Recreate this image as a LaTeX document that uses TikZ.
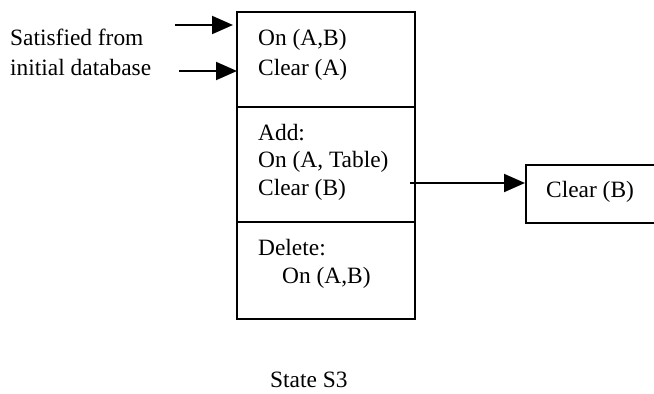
\documentclass[tikz,border=0pt]{standalone}
\usepackage{fontspec}
\setmainfont{Liberation Serif}
\usetikzlibrary{arrows.meta}
\begin{document}
\begin{tikzpicture}[x=1pt,y=-1pt,
  txt/.style={font=\fontsize{23.4}{27}\selectfont, inner sep=0pt, anchor=base west},
  boxline/.style={line width=1.8pt},
  arr/.style={line width=2pt, -{Triangle[length=21pt,width=18pt]}}]
\useasboundingbox (0,0) rectangle (654,394);
% main box
\draw[boxline] (237,12) rectangle (415,319);
\draw[boxline] (237,107) -- (415,107);
\draw[boxline] (237,222) -- (415,222);
% right box
\node[draw, line width=1.8pt, minimum width=140pt, minimum height=58pt, inner sep=0pt, anchor=north west] (cb) at (525,164) {};
\node[txt] (cbt) at (546,197) {Clear (B)};
% texts in main box
\node[txt] (p1) at (258,45) {On (A,B)};
\node[txt] (p2) at (258,75) {Clear (A)};
\node[txt] (a0) at (258,140) {Add:};
\node[txt] (a1) at (258,167) {On (A, Table)};
\node[txt] (a2) at (258,195) {Clear (B)};
\node[txt] (d0) at (258,255) {Delete:};
\node[txt] (d1) at (282,283) {On (A,B)};
% left labels
\node[txt] (s1) at (10,45) {Satisfied from};
\node[txt] (s2) at (10,75) {initial database};
\node[txt] (st) at (270,387) {State S3};
% arrows
\coordinate (t1a) at (175,25);
\coordinate (t1b) at (233,25);
\coordinate (t2a) at (179,71);
\coordinate (t2b) at (237,71);
\coordinate (ra) at (410,183);
\draw[arr] (t1a) -- (t1b);
\draw[arr] (t2a) -- (t2b);
\draw[arr] (ra) -- (ra -| cb.west);
\end{tikzpicture}
\end{document}
